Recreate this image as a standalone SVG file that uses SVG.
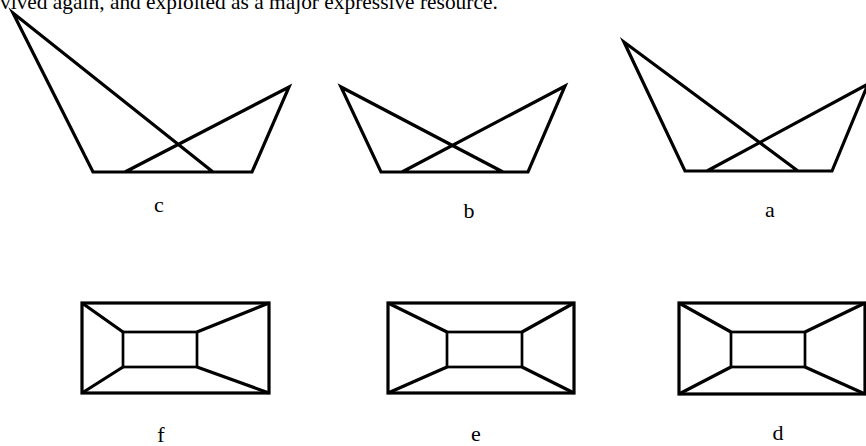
<svg xmlns="http://www.w3.org/2000/svg" width="866" height="446" viewBox="0 0 866 446">
<style>
.ln{fill:none;stroke:#000;stroke-width:3.2;stroke-linejoin:miter;stroke-miterlimit:12;stroke-linecap:butt}
.in{fill:none;stroke:#000;stroke-width:2.7}
.lb{font-family:"Liberation Serif","Times New Roman",serif;font-size:22px;fill:#000;text-anchor:middle}
.tx{font-family:"Liberation Serif","Times New Roman",serif;font-size:21.4px;fill:#000}
</style>
<rect width="866" height="446" fill="#fff"/>
<text class="tx" x="0" y="9">vived again, and exploited as a major expressive resource.</text>
<g id="fig-c">
<polyline class="ln" points="213,172 13,13 93,172 252,172 289,87 125,172"/>
<text class="lb" x="159" y="212">c</text>
</g>
<g id="fig-b">
<polyline class="ln" points="503,172 341,87 381,172 528,172 565,86 402,172"/>
<text class="lb" x="469" y="218">b</text>
</g>
<g id="fig-a">
<polyline class="ln" points="798,171 624,42 685,171 832,171 868,84 707,171"/>
<text class="lb" x="770" y="217">a</text>
</g>
<g id="fig-f">
<rect class="ln" x="82" y="303" width="187" height="90"/>
<rect class="in" x="123" y="332" width="74" height="35"/>
<path class="ln" d="M82,303 L123,332 M82,393 L123,367 M269,303 L197,332 M269,393 L197,367"/>
<text class="lb" x="161" y="442">f</text>
</g>
<g id="fig-e">
<rect class="ln" x="388" y="303" width="186" height="90"/>
<rect class="in" x="447" y="332" width="75" height="35"/>
<path class="ln" d="M388,303 L447,332 M388,393 L447,367 M574,303 L522,332 M574,393 L522,367"/>
<text class="lb" x="476" y="441">e</text>
</g>
<g id="fig-d">
<rect class="ln" x="679" y="303" width="186" height="91"/>
<rect class="in" x="731" y="332" width="74" height="35"/>
<path class="ln" d="M679,303 L731,332 M679,394 L731,367 M865,303 L805,332 M865,394 L805,367"/>
<text class="lb" x="778" y="440">d</text>
</g>
</svg>
